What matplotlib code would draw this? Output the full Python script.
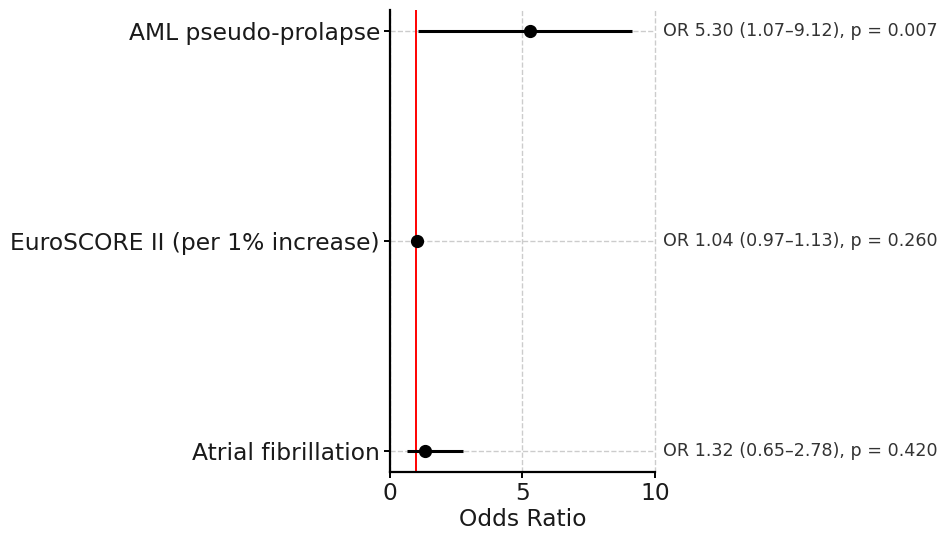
import matplotlib
matplotlib.use("Agg")
import matplotlib.pyplot as plt
import numpy as np

# ── Data ─────────────────────────────────────────────────────
labels = ["AML pseudo-prolapse", "EuroSCORE II (per 1% increase)", "Atrial fibrillation"]
odds = [5.30, 1.04, 1.32]
ci_low = [1.07, 0.97, 0.65]
ci_high = [9.12, 1.13, 2.78]
pvals = [0.007, 0.260, 0.420]

y_pos = np.arange(len(labels))[::-1]
odds = np.array(odds)
err = [odds - np.array(ci_low), np.array(ci_high) - odds]

fig = plt.figure(figsize=(9.39, 5.33), dpi=100)
ax = fig.add_axes([0.415, 0.1144, 0.2825, 0.8666])

ax.errorbar(odds, y_pos, xerr=err, fmt="o", color="black", ecolor="black",
            elinewidth=2.2, markersize=8.5, capsize=0, zorder=3)
ax.axvline(1, color="red", linewidth=1.4, zorder=2)

for y, o, lo, hi, p in zip(y_pos, odds, ci_low, ci_high, pvals):
    ax.text(10.3, y, f"OR {o:.2f} ({lo:.2f}\u2013{hi:.2f}), p = {p:.3f}",
            va="center", ha="left", fontsize=12.6, color="#333333", clip_on=False)

ax.set_yticks(y_pos)
ax.set_yticklabels(labels, fontsize=16.8, color="#1a1a1a")
ax.set_xlim(0, 10)
ax.set_xticks([0, 5, 10])
ax.tick_params(axis="x", labelsize=16.8, labelcolor="#1a1a1a")
ax.tick_params(width=1.4, length=4.5, pad=2.5)
ax.set_xlabel("Odds Ratio", fontsize=16.8, color="#1a1a1a", labelpad=2)
ax.grid(True, linestyle="--", color="#cccccc", linewidth=1.0)
for gl in ax.get_xgridlines():
    gl.set_clip_on(False)
ax.set_axisbelow(True)
ax.spines["top"].set_visible(False)
ax.spines["right"].set_visible(False)
ax.spines["left"].set_linewidth(1.6)
ax.spines["bottom"].set_linewidth(1.6)

fig.savefig("out.png", dpi=100)
